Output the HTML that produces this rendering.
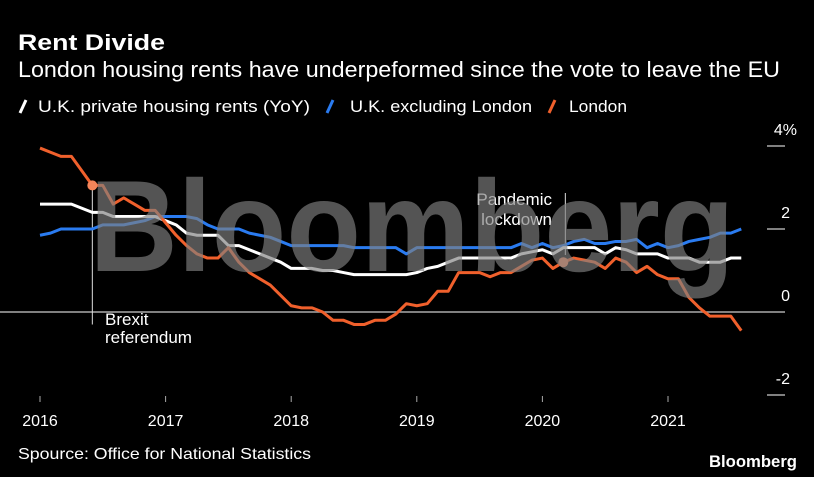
<!DOCTYPE html>
<html><head><meta charset="utf-8"><style>
html,body{margin:0;padding:0;background:#000;}
svg{display:block;font-family:"Liberation Sans",sans-serif;}
</style></head><body>
<svg id="chart" width="814" height="477" viewBox="0 0 814 477" xmlns="http://www.w3.org/2000/svg">
<rect width="814" height="477" fill="#000"/>
<text x="18" y="50" fill="#fff" font-size="22" font-weight="bold" textLength="147" lengthAdjust="spacingAndGlyphs">Rent Divide</text>
<text x="18" y="77" fill="#fff" font-size="22" textLength="762" lengthAdjust="spacingAndGlyphs">London housing rents have underpeformed since the vote to leave the EU</text>
<g>
<line x1="20" y1="113" x2="26" y2="100" stroke="#fff" stroke-width="3"/>
<text x="38" y="112" fill="#fff" font-size="17" textLength="272" lengthAdjust="spacingAndGlyphs">U.K. private housing rents (YoY)</text>
<line x1="327" y1="113" x2="333" y2="100" stroke="#2a7bf0" stroke-width="3"/>
<text x="350" y="112" fill="#fff" font-size="17" textLength="182" lengthAdjust="spacingAndGlyphs">U.K. excluding London</text>
<line x1="549" y1="113" x2="555" y2="100" stroke="#f0602c" stroke-width="3"/>
<text x="569" y="112" fill="#fff" font-size="17" textLength="58" lengthAdjust="spacingAndGlyphs">London</text>
</g>
<g id="axes"></g>
<g id="series"></g>
<text x="412" y="271" fill="#808080" fill-opacity="0.66" font-size="130" font-weight="bold" text-anchor="middle" textLength="645" lengthAdjust="spacingAndGlyphs">Bloomberg</text>
<text x="18" y="459" fill="#fff" font-size="16" textLength="293" lengthAdjust="spacingAndGlyphs">Spource: Office for National Statistics</text>
<text x="797" y="467" fill="#fff" font-size="17" font-weight="bold" text-anchor="end" textLength="88" lengthAdjust="spacingAndGlyphs">Bloomberg</text>
</svg>
<script>
const years=["2016","2017","2018","2019","2020","2021"];
const yTicks=[4,2,0,-2];
const ukRents=[2.6,2.6,2.6,2.6,2.5,2.4,2.4,2.3,2.3,2.3,2.3,2.3,2.2,2.1,1.9,1.85,1.85,1.85,1.6,1.6,1.5,1.4,1.3,1.2,1.05,1.05,1.05,1.0,1.0,0.95,0.9,0.9,0.9,0.9,0.9,0.9,0.95,1.05,1.1,1.2,1.3,1.3,1.3,1.3,1.3,1.3,1.4,1.45,1.5,1.4,1.55,1.55,1.55,1.55,1.4,1.55,1.5,1.4,1.4,1.4,1.3,1.3,1.3,1.2,1.2,1.2,1.3,1.3];
const ukExLondon=[1.85,1.9,2.0,2.0,2.0,2.0,2.1,2.1,2.1,2.15,2.2,2.3,2.3,2.3,2.3,2.25,2.1,2.0,2.0,2.0,1.9,1.85,1.8,1.7,1.6,1.6,1.6,1.6,1.6,1.6,1.55,1.55,1.55,1.55,1.55,1.4,1.55,1.55,1.55,1.55,1.55,1.55,1.55,1.55,1.55,1.55,1.65,1.55,1.65,1.55,1.6,1.7,1.75,1.65,1.65,1.7,1.7,1.75,1.55,1.65,1.55,1.6,1.7,1.75,1.8,1.9,1.9,2.0];
const london=[3.95,3.85,3.75,3.75,3.4,3.05,3.05,2.6,2.75,2.6,2.45,2.45,2.15,1.85,1.6,1.4,1.3,1.3,1.55,1.2,0.95,0.8,0.65,0.4,0.15,0.1,0.1,0,-0.2,-0.2,-0.3,-0.3,-0.2,-0.2,-0.05,0.2,0.15,0.2,0.5,0.5,0.95,0.95,0.95,0.85,0.95,0.95,1.1,1.25,1.3,1.05,1.2,1.3,1.25,1.2,1.05,1.3,1.2,0.95,1.1,0.9,0.8,0.8,0.35,0.1,-0.1,-0.1,-0.1,-0.45];
const brexitIdx=5, pandemicIdx=50;
const NS="http://www.w3.org/2000/svg";
const x=i=>40+i*(628/60);
const y=v=>312-v*41.5;
function mk(tag,attrs,parent){const e=document.createElementNS(NS,tag);for(const k in attrs)e.setAttribute(k,attrs[k]);parent.appendChild(e);return e;}
const axes=document.getElementById('axes'), ser=document.getElementById('series');
yTicks.forEach(v=>{
  if(v!==0){const l=mk('line',{x1:767,x2:785,y1:y(v),y2:y(v),stroke:'#aaa','stroke-width':1.5},axes);
  
  }
  const t=mk('text',{x:v===4?797:790,y:y(v)-11,fill:'#fff','font-size':16,'text-anchor':'end'},axes);
  t.textContent=v===4?'4%':String(v);
  
  
});
const zl=mk('line',{x1:0,x2:785,y1:y(0),y2:y(0),stroke:'#aaa','stroke-width':1.5},axes);


years.forEach((yr,k)=>{
  const xx=x(k*12);
  const tk=mk('line',{x1:xx,x2:xx,y1:396,y2:402,stroke:'#aaa','stroke-width':1},axes);
  
  
  const t=mk('text',{x:xx,y:426,fill:'#fff','font-size':16,'text-anchor':'middle'},axes);
  t.textContent=yr;
  
  
});
const bl=mk('line',{x1:x(brexitIdx),x2:x(brexitIdx),y1:y(london[brexitIdx]),y2:y(-0.3),stroke:'#ddd','stroke-width':1},axes);


[['Brexit',325],['referendum',343]].forEach(([s,yy])=>{const t=mk('text',{x:105,y:yy,fill:'#fff','font-size':17},axes);t.textContent=s;

});
const pl=mk('line',{x1:x(pandemicIdx)+2,x2:x(pandemicIdx)+2,y1:193,y2:255,stroke:'#ddd','stroke-width':1},axes);


[['Pandemic',205],['lockdown',225]].forEach(([s,yy])=>{const t=mk('text',{x:552,y:yy,fill:'#fff','font-size':17,'text-anchor':'end'},axes);t.textContent=s;

});
function line(data,color,name){
  const p=mk('polyline',{points:data.map((v,i)=>x(i)+','+y(v)).join(' '),fill:'none',stroke:color,'stroke-width':3,'stroke-linejoin':'round'},ser);
  
  
}
line(ukExLondon,'#2a7bf0','line-uk-ex-london');
line(ukRents,'#ffffff','line-uk-rents');
line(london,'#f0602c','line-london');
[brexitIdx,pandemicIdx].forEach(i=>{const c=mk('circle',{cx:x(i),cy:y(london[i]),r:5,fill:'#f4855a'},ser);

});
</script>
</body></html>
